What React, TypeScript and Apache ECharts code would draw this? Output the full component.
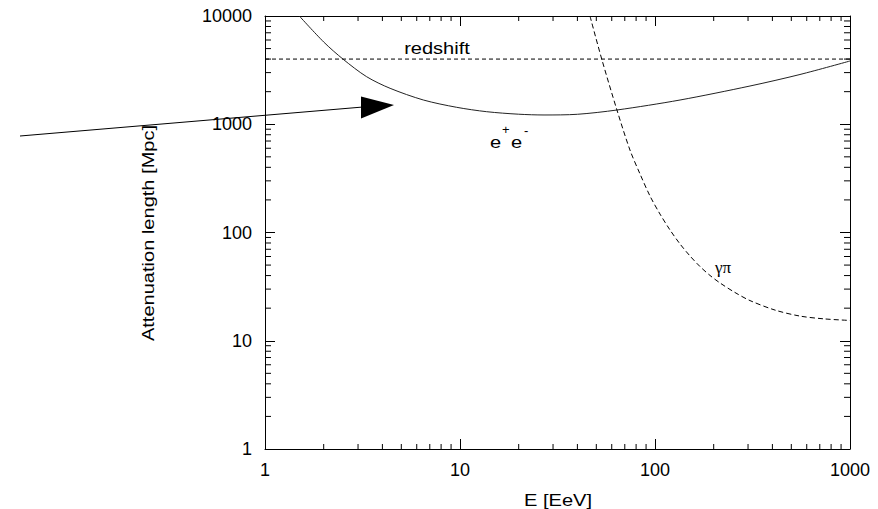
import React, { useEffect, useRef } from "react";
import * as echarts from "echarts";

// e+e- pair production attenuation length (solid)
const eeEnergy = [1.5, 2.0, 2.518, 3.32, 4.38, 6.49, 9.61, 13.7, 20, 26.97, 40, 63.8, 134.4, 307, 554, 1000];
const eeLength = [10000, 5753, 3981, 2750, 2148, 1675, 1434, 1306, 1238, 1218, 1236, 1354, 1675, 2256, 2882, 3840];

// redshift (dashed horizontal)
const redshiftEnergy = [1, 1000];
const redshiftLength = [4000, 4000];

// gamma-pi photopion (dashed)
const gpEnergy = [46.4, 53.3, 63.8, 74.4, 83.8, 94.3, 106.1, 119.4, 134.4, 151.2, 170.1, 191.5, 215.4, 257.2, 307, 412.6, 554, 744.5, 1000];
const gpLength = [10000, 4007, 1354, 578, 347, 217, 148, 105.5, 78.3, 60.7, 48.5, 40.1, 34.2, 27.9, 23.5, 19.2, 16.9, 15.9, 15.4];

// axis decorations (minor tick positions)
const xMinorTicks = [2, 3, 4, 5, 6, 7, 8, 9, 20, 30, 40, 50, 60, 70, 80, 90, 200, 300, 400, 500, 600, 700, 800, 900];
const yMinorTicks = [2, 3, 4, 5, 6, 7, 8, 9, 20, 30, 40, 50, 60, 70, 80, 90, 200, 300, 400, 500, 600, 700, 800, 900, 2000, 3000, 4000, 5000, 6000, 7000, 8000, 9000];

const X_MIN = 1;
const X_MAX = 1000;
const Y_MIN = 1;
const Y_MAX = 10000;

const FONT = "'Liberation Sans', Arial, Helvetica, sans-serif";

export default function App() {
  const ref = useRef<HTMLDivElement>(null);

  useEffect(() => {
    if (!ref.current) return;
    const chart = echarts.init(ref.current, undefined, { renderer: "svg" });
    const fmt = (v: number) => String(Math.round(v));

    const mkX = (pos: string, labels: boolean) => ({
      type: "log",
      logBase: 10,
      min: X_MIN,
      max: X_MAX,
      splitNumber: 3,
      position: pos,
      axisLine: { show: true, lineStyle: { color: "#000", width: 1 } },
      axisTick: { show: true, inside: true, length: 10, lineStyle: { color: "#000", width: 1 } },
      splitLine: { show: false },
      axisLabel: { show: labels, margin: 12, fontSize: 18, fontFamily: FONT, color: "#000", formatter: fmt },
    });
    const mkY = (pos: string, labels: boolean) => ({
      type: "log",
      logBase: 10,
      min: Y_MIN,
      max: Y_MAX,
      splitNumber: 4,
      position: pos,
      axisLine: { show: true, lineStyle: { color: "#000", width: 1 } },
      axisTick: { show: true, inside: true, length: 10, lineStyle: { color: "#000", width: 1 } },
      splitLine: { show: false },
      axisLabel: { show: labels, margin: 13, fontSize: 18, fontFamily: FONT, color: "#000", formatter: fmt },
    });

    const textBase = { fontFamily: FONT, fill: "#000" };

    const option: any = {
      animation: false,
      backgroundColor: "#fff",
      grid: { left: 265, top: 16, right: 28, bottom: 60 },
      xAxis: [mkX("bottom", true), mkX("top", false)],
      yAxis: [mkY("left", true), mkY("right", false)],
      series: [
        {
          name: "e+e-",
          type: "line",
          data: eeEnergy.map((e, i) => [e, eeLength[i]]),
          showSymbol: false,
          symbol: "none",
          smooth: 0.3,
          lineStyle: { color: "#222", width: 1 },
        },
        {
          name: "redshift",
          type: "line",
          data: redshiftEnergy.map((e, i) => [e, redshiftLength[i]]),
          showSymbol: false,
          symbol: "none",
          lineStyle: { color: "#000", width: 1, type: [4, 3] },
        },
        {
          name: "γπ",
          type: "line",
          data: gpEnergy.map((e, i) => [e, gpLength[i]]),
          showSymbol: false,
          symbol: "none",
          smooth: 0.3,
          lineStyle: { color: "#000", width: 1, type: [5, 3] },
        },
        {
          name: "xMinor",
          type: "custom",
          data: xMinorTicks.map((v) => [v, Y_MIN]),
          renderItem: (params: any, api: any) => {
            const v = api.value(0);
            const b = api.coord([v, Y_MIN]);
            const t = api.coord([v, Y_MAX]);
            return {
              type: "group",
              children: [
                { type: "line", shape: { x1: b[0], y1: b[1], x2: b[0], y2: b[1] - 5 }, style: { stroke: "#000", lineWidth: 1 } },
                { type: "line", shape: { x1: t[0], y1: t[1], x2: t[0], y2: t[1] + 5 }, style: { stroke: "#000", lineWidth: 1 } },
              ],
            };
          },
        },
        {
          name: "yMinor",
          type: "custom",
          data: yMinorTicks.map((v) => [X_MIN, v]),
          renderItem: (params: any, api: any) => {
            const v = api.value(1);
            const l = api.coord([X_MIN, v]);
            const r = api.coord([X_MAX, v]);
            return {
              type: "group",
              children: [
                { type: "line", shape: { x1: l[0], y1: l[1], x2: l[0] + 6, y2: l[1] }, style: { stroke: "#000", lineWidth: 1 } },
                { type: "line", shape: { x1: r[0], y1: r[1], x2: r[0] - 6, y2: r[1] }, style: { stroke: "#000", lineWidth: 1 } },
              ],
            };
          },
        },
      ],
      graphic: [
        {
          type: "text",
          x: 148,
          y: 233,
          rotation: Math.PI / 2,
          scaleX: 1.18,
          style: { ...textBase, text: "Attenuation length [Mpc]", fontSize: 17, align: "center", verticalAlign: "middle" },
        },
        {
          type: "text",
          x: 558,
          y: 500,
          scaleX: 1.18,
          style: { ...textBase, text: "E [EeV]", fontSize: 17, align: "center", verticalAlign: "middle" },
        },
        {
          type: "text",
          x: 437,
          y: 48,
          scaleX: 1.18,
          style: { ...textBase, text: "redshift", fontSize: 17, align: "center", verticalAlign: "middle" },
        },
        {
          type: "text",
          x: 490,
          y: 142,
          scaleX: 1.18,
          style: { ...textBase, text: "e", fontSize: 17, align: "left", verticalAlign: "middle" },
        },
        {
          type: "text",
          x: 502,
          y: 129,
          style: { ...textBase, text: "+", fontSize: 13, align: "left", verticalAlign: "middle" },
        },
        {
          type: "text",
          x: 511,
          y: 142,
          scaleX: 1.18,
          style: { ...textBase, text: "e", fontSize: 17, align: "left", verticalAlign: "middle" },
        },
        {
          type: "text",
          x: 524,
          y: 130,
          style: { ...textBase, text: "-", fontSize: 13, align: "left", verticalAlign: "middle" },
        },
        {
          type: "text",
          x: 723,
          y: 267,
          style: {
            text: "γπ",
            fontSize: 17,
            fontFamily: "'Liberation Serif', 'DejaVu Serif', serif",
            fill: "#000",
            align: "center",
            verticalAlign: "middle",
          },
        },
        {
          type: "line",
          shape: { x1: 20, y1: 136, x2: 363, y2: 107 },
          style: { stroke: "#000", lineWidth: 1 },
        },
        {
          type: "polygon",
          shape: { points: [[361, 96.5], [361, 118.5], [394, 105]] },
          style: { fill: "#000" },
        },
      ],
    };

    chart.setOption(option);
    return () => chart.dispose();
  }, []);

  return (
    <div
      ref={ref}
      style={{ position: "fixed", left: 0, top: 0, width: 878, height: 509, background: "#fff" }}
    />
  );
}
